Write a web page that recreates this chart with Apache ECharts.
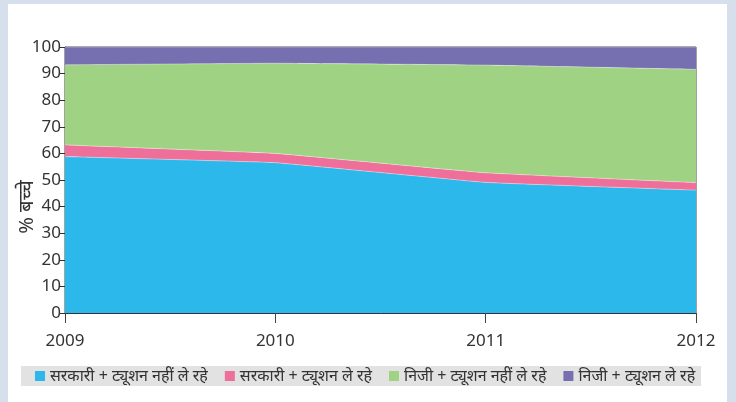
<!DOCTYPE html>
<html>
<head>
<meta charset="utf-8">
<script src="https://cdn.jsdelivr.net/npm/echarts@6/dist/echarts.min.js"></script>
<style>
  html, body { margin: 0; padding: 0; background: #d5e0ec; }
  #main { position: absolute; left: 8px; top: 4px; width: 719px; height: 398px; background: #fff; }
</style>
</head>
<body>
<div id="main"></div>
<script>
// years on the x axis
var years = ['2009', '2010', '2011', '2012'];
// % children, stacked to 100
var govtNoTuition = [58.8, 56.5, 49.1, 46.2];
var govtTuition = [4.4, 3.5, 3.6, 2.8];
var pvtNoTuition = [30.1, 33.9, 40.5, 42.6];
var pvtTuition = [6.7, 6.1, 6.8, 8.4];
var seriesNames = ['सरकारी + ट्यूशन नहीं ले रहे', 'सरकारी + ट्यूशन ले रहे', 'निजी + ट्यूशन नहीं ले रहे', 'निजी + ट्यूशन ले रहे'];

var colors = ['#2db8eb', '#ef6f9b', '#a0d283', '#766fb0'];
var mychart = echarts.init(document.getElementById('main'));

function areaSeries(name, data, color) {
    return {
        name: name,
        type: 'line',
        stack: 'total',
        data: data,
        smooth: 0.07,
        symbol: 'none',
        itemStyle: {color: color},
        lineStyle: {width: 0.8, color: 'rgba(255,255,255,0.45)'},
        areaStyle: {color: color, opacity: 1}
    };
}

var option = {
    animation: false,
    textStyle: {fontFamily: 'Noto Sans, sans-serif'},
    grid: {
        left: 57, right: 31, top: 43, bottom: 89,
        outerBoundsMode: 'none',
        containLabel: false,
        show: true, borderColor: '#444', borderWidth: 1
    },
    legend: {
        left: 13, top: 362,
        backgroundColor: '#e2e2e2',
        padding: [2, 6, 2, 14],
        itemWidth: 10, itemHeight: 10, itemGap: 17,
        icon: 'rect',
        data: seriesNames,
        textStyle: {fontSize: 16, color: '#333'}
    },
    xAxis: {
        type: 'category',
        boundaryGap: false,
        data: years,
        axisLine: {lineStyle: {color: '#333', width: 1}},
        axisTick: {length: 10, lineStyle: {color: '#444'}},
        axisLabel: {fontSize: 17, color: '#333', margin: 20}
    },
    yAxis: {
        type: 'value',
        min: 0, max: 100, interval: 10,
        name: '% बच्चे',
        nameLocation: 'middle',
        nameRotate: 90,
        nameGap: 28,
        nameMoveOverlap: false,
        nameTextStyle: {fontSize: 20, color: '#333', padding: [0, 54, 0, 0]},
        splitLine: {show: false},
        axisLine: {show: true, lineStyle: {color: '#333'}},
        axisTick: {show: true, length: 5, lineStyle: {color: '#333'}},
        axisLabel: {fontSize: 17, color: '#333', margin: 4}
    },
    series: [
        areaSeries(seriesNames[0], govtNoTuition, colors[0]),
        areaSeries(seriesNames[1], govtTuition, colors[1]),
        areaSeries(seriesNames[2], pvtNoTuition, colors[2]),
        areaSeries(seriesNames[3], pvtTuition, colors[3])
    ]
};

mychart.setOption(option);
</script>
</body>
</html>
